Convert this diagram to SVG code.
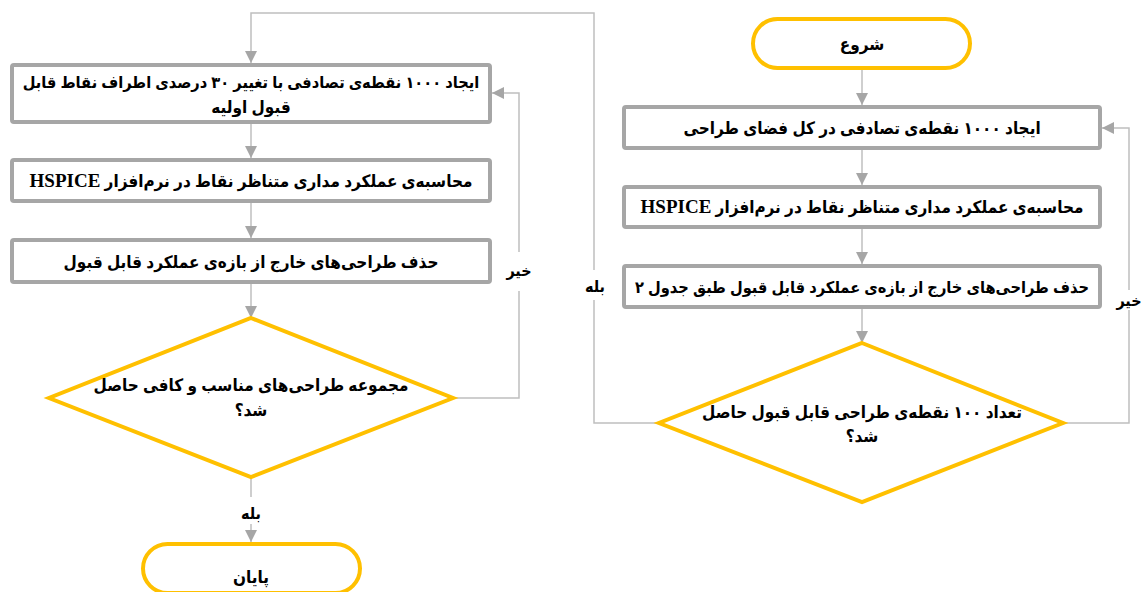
<svg xmlns="http://www.w3.org/2000/svg" width="1148" height="592" viewBox="0 0 1148 592">
<defs>
<marker id="ah" markerUnits="userSpaceOnUse" markerWidth="12" markerHeight="12" refX="12" refY="6" orient="auto">
<path d="M0,0 L12,6 L0,12 z" fill="#A6A6A6"/>
</marker>
<style>
.box{fill:#fff;stroke:#A6A6A6;stroke-width:4}
.term{fill:#fff;stroke:#FFC000;stroke-width:4}
.dec{fill:#fff;stroke:#FFC000;stroke-width:4;stroke-linejoin:miter}
.con{fill:none;stroke:#BFBFBF;stroke-width:1.5}
.t{font-family:"Liberation Serif","DejaVu Sans Condensed","DejaVu Sans",serif;font-weight:bold;font-size:17px;fill:#000;text-anchor:middle;direction:rtl;unicode-bidi:embed}
.sm{font-size:16.3px}
.lbl{font-family:"Liberation Serif","DejaVu Sans Condensed","DejaVu Sans",serif;font-weight:bold;font-size:16px;fill:#000;text-anchor:middle;direction:rtl;unicode-bidi:embed}
.en{font-size:19px}
</style>
</defs>
<rect width="1148" height="592" fill="#fff"/>
<g id="connectors">
<path class="con" d="M659,423 H594 V300 M594,270 V13 H251 V63" marker-end="url(#ah)"/>
<path class="con" d="M251,124 V158" marker-end="url(#ah)"/>
<path class="con" d="M251,203 V238" marker-end="url(#ah)"/>
<path class="con" d="M251,284 V318" marker-end="url(#ah)"/>
<path class="con" d="M453,398 H519 V291 M519,252 V93 H492" marker-end="url(#ah)"/>
<path class="con" d="M251,477 V497 M251,524 V542" marker-end="url(#ah)"/>
<path class="con" d="M862,70 V105" marker-end="url(#ah)"/>
<path class="con" d="M862,150 V185" marker-end="url(#ah)"/>
<path class="con" d="M862,229 V264" marker-end="url(#ah)"/>
<path class="con" d="M862,309 V343" marker-end="url(#ah)"/>
<path class="con" d="M1063,423 H1129 V310 M1129,290 V128 H1102" marker-end="url(#ah)"/>
<text class="lbl" x="519" y="276">خیر</text>
<text class="lbl" x="595" y="292">بله</text>
<text class="lbl" x="1129" y="306">خیر</text>
<text class="lbl" x="251" y="519">بله</text>
</g>
<g id="start">
<rect class="term" x="753" y="19" width="217" height="49" rx="24.5"/>
<text class="t" x="862" y="50">شروع</text>
</g>
<g id="r1">
<rect class="box" x="624" y="107" width="476" height="41" rx="2"/>
<text class="t" x="862" y="134">ایجاد ۱۰۰۰ نقطه‌ی تصادفی در کل فضای طراحی</text>
</g>
<g id="r2">
<rect class="box" x="624" y="187" width="476" height="40" rx="2"/>
<text class="t" x="862" y="213">محاسبه‌ی عملکرد مداری متناظر نقاط در نرم‌افزار <tspan class="en">HSPICE</tspan></text>
</g>
<g id="r3">
<rect class="box" x="624" y="266" width="476" height="41" rx="2"/>
<text class="t sm" x="862" y="293">حذف طراحی‌های خارج از بازه‌ی عملکرد قابل قبول طبق جدول ۲</text>
</g>
<g id="rdec">
<polygon class="dec" points="862,343 1063,423 862,502 659,423"/>
<text class="t" x="862" y="418">تعداد ۱۰۰ نقطه‌ی طراحی قابل قبول حاصل</text>
<text class="t" x="862" y="442">شد؟</text>
</g>
<g id="l1">
<rect class="box" x="12" y="65" width="478" height="57" rx="2"/>
<text class="t sm" x="251" y="88">ایجاد ۱۰۰۰ نقطه‌ی تصادفی با تغییر ۳۰ درصدی اطراف نقاط قابل</text>
<text class="t" x="251" y="113">قبول اولیه</text>
</g>
<g id="l2">
<rect class="box" x="12" y="160" width="478" height="41" rx="2"/>
<text class="t" x="251" y="187">محاسبه‌ی عملکرد مداری متناظر نقاط در نرم‌افزار <tspan class="en">HSPICE</tspan></text>
</g>
<g id="l3">
<rect class="box" x="12" y="240" width="478" height="42" rx="2"/>
<text class="t" x="251" y="268">حذف طراحی‌های خارج از بازه‌ی عملکرد قابل قبول</text>
</g>
<g id="ldec">
<polygon class="dec" points="251,318 453,398 251,477 49,398"/>
<text class="t" x="251" y="391">مجموعه طراحی‌های مناسب و کافی حاصل</text>
<text class="t" x="251" y="416">شد؟</text>
</g>
<g id="end">
<rect class="term" x="143" y="544" width="217" height="49" rx="24.5"/>
<text class="t" x="251" y="583">پایان</text>
</g>
</svg>
